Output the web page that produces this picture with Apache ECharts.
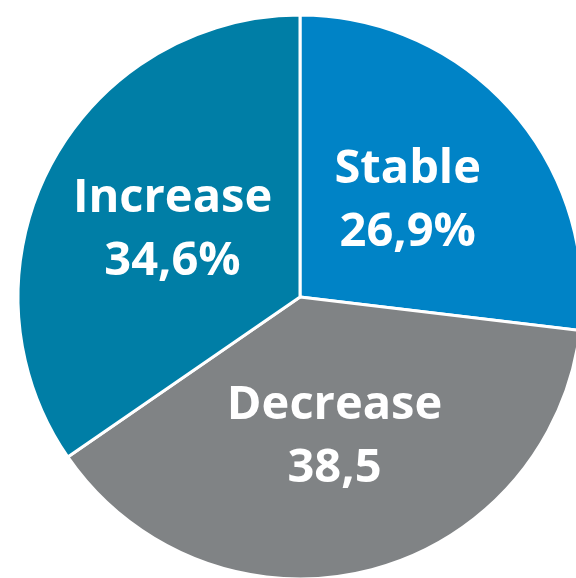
<!DOCTYPE html>
<html>
<head>
<meta charset="utf-8">
<script src="https://cdn.jsdelivr.net/npm/echarts@6/dist/echarts.min.js"></script>
<style>
  html, body { margin: 0; padding: 0; background: #ffffff; }
  #chart { width: 576px; height: 578px; }
</style>
</head>
<body>
<div id="chart"></div>
<script>
// Share of responses by outlook
const categories = ['Stable', 'Decrease', 'Increase'];
const shares = [26.9, 38.5, 34.6];
const valueLabels = ['26,9%', '38,5', '34,6%'];
const sliceColors = ['#0083C6', '#808385', '#007EA6'];

const chart = echarts.init(document.getElementById('chart'), null, { renderer: 'canvas' });

chart.setOption({
  animation: false,
  backgroundColor: '#ffffff',
  series: [{
    type: 'pie',
    center: [300, 297],
    radius: [0, 282],
    startAngle: 90,
    clockwise: true,
    silent: true,
    data: categories.map((name, i) => ({
      name: name,
      value: shares[i],
      itemStyle: { color: sliceColors[i] },
      label: { formatter: name + '\n' + valueLabels[i] }
    })),
    itemStyle: { borderColor: '#ffffff', borderWidth: 3 },
    label: {
      show: true,
      position: 'inside',
      color: '#ffffff',
      fontFamily: 'Open Sans',
      fontWeight: 'bold',
      fontSize: 47,
      lineHeight: 63,
      align: 'center'
    },
    labelLine: { show: false }
  }]
});
</script>
</body>
</html>
